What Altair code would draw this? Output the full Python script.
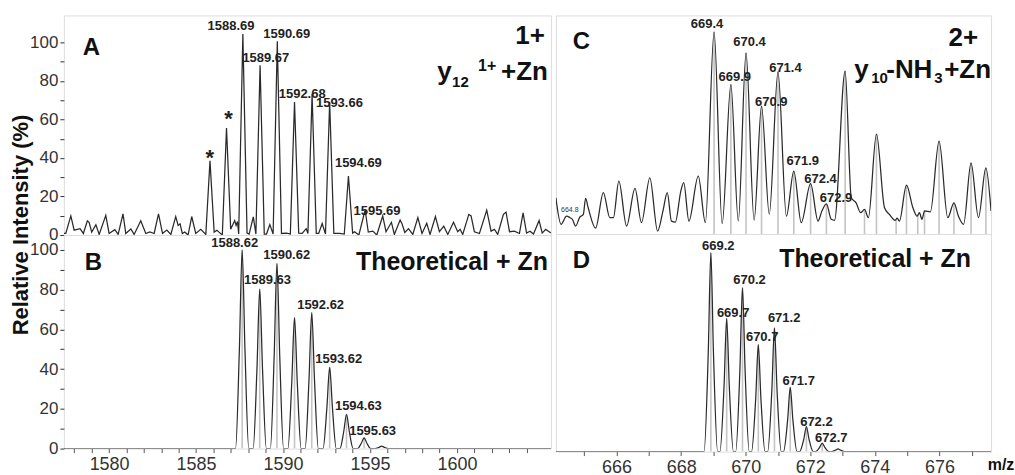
import altair as alt
import pandas as pd

FONT = "Liberation Sans"
NARROW = "Liberation Sans Narrow, Arial Narrow, Liberation Sans"
INK = "#222222"

# ---------------- Panel A : experimental, 1+ ----------------
a_mz = [1577.40, 1577.51, 1577.80, 1577.99, 1578.33, 1578.52, 1578.75, 1578.85, 1579.00, 1579.24,
        1579.43, 1579.81, 1580.00, 1580.33, 1580.52, 1580.80, 1580.96, 1581.25, 1581.44, 1581.82,
        1582.11, 1582.34, 1582.59, 1582.84, 1583.07, 1583.32, 1583.55, 1583.83, 1583.97, 1584.08,
        1584.21, 1584.35, 1584.54, 1584.75, 1584.98, 1585.27, 1585.56, 1585.80, 1586.04, 1586.20,
        1586.32, 1586.51, 1586.75, 1586.99, 1587.22, 1587.30, 1587.38, 1587.45, 1587.69, 1587.93,
        1588.05, 1588.29, 1588.44, 1588.68, 1588.92, 1589.05, 1589.24, 1589.43, 1589.67, 1589.91,
        1590.20, 1590.42, 1590.66, 1590.90, 1591.10, 1591.33, 1591.43, 1591.67, 1591.91, 1592.05,
        1592.25, 1592.44, 1592.68, 1592.92, 1593.25, 1593.52, 1593.76, 1594.00, 1594.11, 1594.36,
        1594.72, 1594.90, 1595.16, 1595.39, 1595.73, 1595.92, 1596.23, 1596.40, 1596.73, 1596.84,
        1597.00, 1597.21, 1597.46, 1597.75, 1597.99, 1598.26, 1598.45, 1598.76, 1598.99, 1599.24,
        1599.47, 1599.80, 1600.04, 1600.18, 1600.33, 1600.68, 1600.81, 1601.00, 1601.29, 1601.71,
        1601.96, 1602.15, 1602.34, 1602.67, 1602.82, 1603.02, 1603.30, 1603.59, 1603.80, 1604.00,
        1604.20, 1604.40, 1604.72, 1604.90, 1605.10, 1605.40]
a_int = [0.8, 0.8, 9.9, 2.5, 3.3, 0.8, 7.4, 6.6, 1.5, 5.3,
         0.3, 10.2, 0.8, 2.8, 0.3, 11.0, 0.8, 3.1, 0.3, 7.4,
         0.8, 1.6, 0.8, 11.0, 0.8, 2.6, 0.3, 9.6, 5.0, 5.8,
         0.8, 1.6, 0.0, 9.6, 0.8, 3.0, 0.3, 38.5, 1.5, 2.5,
         1.5, 0.0, 55.6, 3.0, 7.5, 5.0, 7.0, 0.5, 104.3, 1.0,
         0.5, 9.4, 0.5, 88.1, 0.5, 0.5, 5.4, 0.5, 100.6, 0.8,
         1.0, 0.5, 69.1, 1.0, 0.8, 3.3, 0.8, 73.1, 0.8, 0.8,
         6.0, 0.5, 69.1, 0.8, 0.8, 0.5, 30.6, 1.0, 1.7, 0.0,
         13.0, 1.5, 2.0, 0.0, 9.9, 1.7, 6.6, 0.3, 7.8, 5.8,
         1.3, 3.3, 0.3, 9.1, 0.8, 6.1, 0.3, 9.6, 1.7, 4.6,
         0.3, 6.6, 1.7, 3.0, 0.3, 10.7, 9.9, 1.7, 0.8, 12.9,
         2.0, 3.0, 0.3, 10.7, 11.9, 1.7, 2.0, 0.8, 11.5, 1.0,
         2.0, 0.5, 7.5, 1.0, 3.0, 1.0]
a_lab = ["1588.69", "1590.69", "1589.67", "1592.68", "1593.66", "1594.69", "1595.69"]
a_lab_mz = [1587.01, 1590.21, 1589.01, 1591.10, 1593.24, 1594.33, 1595.40]
a_lab_int = [108.3, 104.3, 91.7, 73.0, 68.6, 37.2, 12.6]
a_star_mz = [1585.79, 1586.87]
a_star_int = [36.2, 56.5]

# ---------------- Panel B : theoretical, 1+ ----------------
b_mz = [1577.40,
        1587.27, 1587.49, 1587.65, 1587.81, 1588.03,
        1588.28, 1588.50, 1588.66, 1588.82, 1589.04,
        1589.27, 1589.49, 1589.65, 1589.81, 1590.03,
        1590.28, 1590.50, 1590.66, 1590.82, 1591.04,
        1591.27, 1591.49, 1591.65, 1591.81, 1592.03,
        1592.30, 1592.52, 1592.68, 1592.84, 1593.06,
        1593.27, 1593.49, 1593.65, 1593.81, 1594.03,
        1594.28, 1594.50, 1594.66, 1594.82, 1595.04,
        1595.29, 1595.51, 1595.67, 1595.83, 1596.05,
        1605.40]
b_int = [0.0,
         0.0, 50.0, 100.0, 50.0, 0.0,
         0.0, 40.1, 80.2, 40.1, 0.0,
         0.0, 46.6, 93.2, 46.6, 0.0,
         0.0, 33.0, 65.9, 33.0, 0.0,
         0.0, 34.2, 68.4, 34.2, 0.0,
         0.0, 20.5, 40.9, 20.5, 0.0,
         0.0, 8.6, 17.2, 8.6, 0.0,
         0.0, 2.7, 5.4, 2.7, 0.0,
         0.0, 0.6, 1.2, 0.6, 0.0,
         0.0]
b_stick_mz = [1587.65, 1588.66, 1589.65, 1590.66, 1591.65, 1592.68, 1593.65, 1594.66]
b_stick_int = [100.0, 80.2, 93.2, 65.9, 68.4, 40.9, 17.2, 5.4]
b_lab = ["1588.62", "1590.62", "1589.63", "1592.62", "1593.62", "1594.63", "1595.63"]
b_lab_mz = [1587.22, 1590.21, 1589.11, 1592.16, 1593.20, 1594.33, 1595.15]
b_lab_int = [103.4, 97.5, 84.8, 72.1, 45.1, 21.5, 8.8]

# ---------------- Panel C : experimental, 2+ ----------------
c_mz = [664.12, 664.28, 664.45, 664.56, 664.63, 664.73, 664.86, 664.97, 665.04, 665.12,
        665.35, 665.59, 665.79, 665.90, 666.07, 666.31, 666.57, 666.77, 667.03, 667.27,
        667.44, 667.57, 667.70, 667.82, 667.99, 668.08, 668.24, 668.53, 668.75, 669.02,
        669.27, 669.54, 669.77, 670.01, 670.26, 670.49, 670.73, 671.00, 671.26, 671.49,
        671.72, 672.01, 672.24, 672.36, 672.50, 672.65, 672.75, 673.08, 673.27, 673.42,
        673.56, 673.68, 673.80, 674.05, 674.30, 674.45, 674.63, 674.69, 674.76, 674.98,
        675.18, 675.31, 675.38, 675.46, 675.54, 675.72, 675.99, 676.26, 676.45, 676.59,
        676.75, 676.98, 677.21, 677.44, 677.60]
c_int = [18.2, 4.9, 9.0, 8.2, 7.4, 4.0, 8.5, 9.9, 17.9, 13.2,
         2.9, 20.8, 8.2, 8.2, 26.6, 4.0, 23.0, 5.7, 28.3, 1.5,
         11.9, 20.8, 6.5, 6.0, 21.6, 25.8, 6.5, 29.1, 5.7, 101.7,
         5.2, 75.2, 6.5, 91.1, 7.0, 64.3, 10.0, 81.6, 9.0, 31.7,
         5.7, 25.3, 6.5, 11.6, 15.2, 7.4, 6.9, 82.0, 18.2, 15.7,
         10.7, 12.4, 8.2, 50.3, 13.2, 9.9, 6.9, 8.0, 6.5, 24.6,
         13.2, 9.0, 10.7, 7.4, 11.6, 11.2, 46.7, 8.2, 15.7, 9.0,
         4.9, 35.8, 8.2, 33.3, 11.6]
c_stick_mz = [669.02, 669.54, 670.01, 670.49, 671.00, 671.49, 672.01, 672.50, 673.08, 673.68,
              674.05, 674.66, 674.98, 675.33, 675.54, 675.99, 676.45, 676.98, 677.44]
c_stick_int = [101.7, 75.2, 91.1, 64.3, 81.6, 31.7, 25.3, 15.2, 82.0, 12.4,
               50.3, 7.5, 24.6, 10.0, 11.6, 46.7, 15.7, 35.8, 33.3]
c_lab = ["669.4", "670.4", "669.9", "671.4", "670.9", "671.9", "672.4", "672.9"]
c_lab_mz = [668.80, 670.12, 669.66, 671.23, 670.79, 671.77, 672.32, 672.80]
c_lab_int = [105.7, 96.6, 78.9, 83.6, 66.5, 36.7, 27.5, 18.2]

# ---------------- Panel D : theoretical, 2+ ----------------
d_mz = [664.12,
        668.71, 668.84, 668.92, 669.00, 669.13,
        669.20, 669.33, 669.41, 669.49, 669.62,
        669.69, 669.82, 669.90, 669.98, 670.11,
        670.18, 670.31, 670.39, 670.47, 670.60,
        670.68, 670.81, 670.89, 670.97, 671.10,
        671.17, 671.30, 671.38, 671.46, 671.59,
        671.67, 671.80, 671.88, 671.96, 672.09,
        672.16, 672.29, 672.37, 672.45, 672.58,
        672.65, 672.78, 672.86, 672.94, 673.07,
        677.60]
d_int = [0.0,
         0.0, 50.0, 100.0, 50.0, 0.0,
         0.0, 33.5, 66.9, 33.5, 0.0,
         0.0, 41.2, 82.4, 41.2, 0.0,
         0.0, 26.9, 53.8, 26.9, 0.0,
         0.0, 31.1, 62.2, 31.1, 0.0,
         0.0, 16.2, 32.3, 16.2, 0.0,
         0.0, 6.3, 12.6, 6.3, 0.0,
         0.0, 2.1, 4.2, 2.1, 0.0,
         0.0, 0.7, 1.3, 0.7, 0.0,
         0.0]
d_stick_mz = [668.92, 669.41, 669.90, 670.39, 670.89, 671.38, 671.88, 672.37]
d_stick_int = [100.0, 66.9, 82.4, 53.8, 62.2, 32.3, 12.6, 4.2]
d_lab = ["669.2", "670.2", "669.7", "671.2", "670.7", "671.7", "672.2", "672.7"]
d_lab_mz = [669.15, 670.12, 669.61, 671.19, 670.51, 671.64, 672.19, 672.65]
d_lab_int = [103.4, 86.1, 69.5, 67.0, 57.6, 35.5, 15.1, 7.0]

y_ticks = [0, 10, 20, 30, 40, 50, 60, 70, 80, 90, 100]
left_ticks = [1578, 1579, 1580, 1581, 1582, 1583, 1584, 1585, 1586, 1587, 1588, 1589, 1590, 1591,
              1592, 1593, 1594, 1595, 1596, 1597, 1598, 1599, 1600, 1601, 1602, 1603, 1604]
right_ticks = [665, 666, 667, 668, 669, 670, 671, 672, 673, 674, 675, 676, 677]

LEFT_DOM = [1577.4, 1605.4]
RIGHT_DOM = [664.12, 677.6]

yaxis = alt.Axis(values=y_ticks, title=None, labelFontSize=17, labelColor="#333333",
                 labelExpr="datum.value % 20 === 0 ? datum.label : ''",
                 tickColor="#333333", tickSize=4, domain=False, grid=False, labelPadding=2,
                 labelFlush=False, labelOverlap=False, labelFont=FONT)


def xaxis(vals, step):
    return alt.Axis(values=vals, title=None, format="d", labelFontSize=18, labelColor="#333333",
                    labelExpr=f"datum.value % {step} === 0 ? datum.label : ''",
                    tickColor="#555555", tickSize=4, domain=False, grid=False, labelPadding=3,
                    labelFlush=False, labelOverlap=False, labelFont=FONT)


def panel(mz, inten, sticks, labels, xdom, ydom, xax, yax, interp, w, h, extra, label_size=13):
    X = lambda f: alt.X(f + ":Q", scale=alt.Scale(domain=xdom, nice=False, zero=False), axis=xax)
    Y = lambda f: alt.Y(f + ":Q", scale=alt.Scale(domain=ydom, nice=False, zero=False), axis=yax)
    layers = []
    if sticks is not None:
        sdf = pd.DataFrame({"mz": sticks[0], "v": sticks[1], "z": [0.0] * len(sticks[0])})
        layers.append(alt.Chart(sdf).mark_rule(color="#c4c4c4", strokeWidth=1.6, clip=True).encode(
            x=X("mz"), y=Y("v"), y2="z:Q"))
    ldf = pd.DataFrame({"mz": mz, "v": inten})
    layers.append(alt.Chart(ldf).mark_line(color="#2a2a2a", strokeWidth=1.25, interpolate=interp,
                                           clip=True).encode(x=X("mz"), y=Y("v")))
    tdf = pd.DataFrame({"mz": labels[1], "v": labels[2], "t": labels[0]})
    layers.append(alt.Chart(tdf).mark_text(font=NARROW, fontWeight="bold", fontSize=label_size,
                                           color=INK, baseline="middle", align="center").encode(
        x=X("mz"), y=Y("v"), text="t:N"))
    for e in extra:
        layers.append(e(X, Y))
    return alt.layer(*layers).properties(width=w, height=h)


def txt(s, px, py, size, align="left", bold=True, angle=0):
    def make(X, Y):
        kw = dict(font=FONT, fontSize=size, fontWeight="bold" if bold else "normal", color="#111111",
                  align=align, baseline="alphabetic")
        if angle:
            kw.update(angle=angle, baseline="middle")
        return alt.Chart(pd.DataFrame({"t": [s]})).mark_text(**kw).encode(
            x=alt.value(px), y=alt.value(py), text="t:N")
    return make


def stars(X, Y):
    sdf = pd.DataFrame({"mz": a_star_mz, "v": a_star_int, "t": ["*", "*"]})
    return alt.Chart(sdf).mark_text(font=FONT, fontWeight="bold", fontSize=22, color=INK,
                                    baseline="alphabetic", align="center").encode(
        x=X("mz"), y=Y("v"), text="t:N")


def tiny_label(X, Y):
    sdf = pd.DataFrame({"mz": [664.55], "v": [12.0], "t": ["664.8"]})
    return alt.Chart(sdf).mark_text(font=FONT, fontSize=7, color="#333333",
                                    baseline="middle", align="center").encode(
        x=X("mz"), y=Y("v"), text="t:N")


WL, WR = 488, 436
chart_a = panel(a_mz, a_int, None, (a_lab, a_lab_mz, a_lab_int), LEFT_DOM, [0, 114], None, yaxis,
                "linear", WL, 220,
                [stars,
                 txt("A", 19, 40, 24),
                 txt("1+", 482, 29, 26, align="right"),
                 txt("y", 374, 65, 26),
                 txt("12", 389, 72, 15),
                 txt("1+", 415, 56, 16),
                 txt("+Zn", 485, 65, 26, align="right"),
                 txt("Relative Intensity (%)", -43, 210, 22, align="center", angle=270)])
chart_b = panel(b_mz, b_int, (b_stick_mz, b_stick_int), (b_lab, b_lab_mz, b_lab_int), LEFT_DOM,
                [0, 107.5], xaxis(left_ticks, 5), yaxis, "monotone", WL, 214,
                [txt("B", 21, 35, 24),
                 txt("Theoretical + Zn", 485, 35, 25, align="right")])
chart_c = panel(c_mz, c_int, (c_stick_mz, c_stick_int), (c_lab, c_lab_mz, c_lab_int), RIGHT_DOM,
                [0, 110], None, None, "monotone", WR, 219,
                [tiny_label,
                 txt("C", 17, 34, 24),
                 txt("2+", 423, 31, 26, align="right"),
                 txt("y", 299, 63, 26),
                 txt("10", 316, 68, 15),
                 txt("-NH", 331, 63, 26),
                 txt("3", 379, 68, 15),
                 txt("+Zn", 436, 63, 26, align="right")])
chart_d = panel(d_mz, d_int, (d_stick_mz, d_stick_int), (d_lab, d_lab_mz, d_lab_int), RIGHT_DOM,
                [0, 109.4], xaxis(right_ticks, 2), None, "monotone", WR, 218,
                [txt("D", 17, 34, 24),
                 txt("Theoretical + Zn", 416, 33, 25, align="right"),
                 txt("m/z", 446, 236, 16, align="center")])

left = alt.vconcat(chart_a, chart_b, spacing=0, bounds="flush")
right = alt.vconcat(chart_c, chart_d, spacing=0, bounds="flush")
chart = alt.hconcat(left, right, spacing=3).properties(
    padding={"left": 9, "top": 14, "right": 0, "bottom": 0}
).configure_view(stroke="#333333", strokeWidth=1.3).configure(font=FONT, background="white")

chart.save("out.html", embed_options={"renderer": "svg", "actions": False})
